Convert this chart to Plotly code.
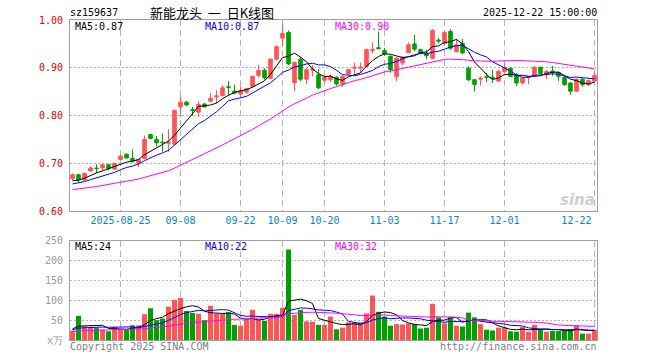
import plotly.graph_objects as go
import pandas as pd

# ---------------- data ----------------
dates = [
    "2025-08-13", "2025-08-14", "2025-08-15", "2025-08-18", "2025-08-19", "2025-08-20", "2025-08-21", "2025-08-22",
    "2025-08-25", "2025-08-26", "2025-08-27", "2025-08-28", "2025-08-29",
    "2025-09-01", "2025-09-02", "2025-09-03", "2025-09-04", "2025-09-05",
    "2025-09-08", "2025-09-09", "2025-09-10", "2025-09-11", "2025-09-12",
    "2025-09-15", "2025-09-16", "2025-09-17", "2025-09-18", "2025-09-19",
    "2025-09-22", "2025-09-23", "2025-09-24", "2025-09-25", "2025-09-26",
    "2025-09-29", "2025-09-30",
    "2025-10-09", "2025-10-10",
    "2025-10-13", "2025-10-14", "2025-10-15", "2025-10-16", "2025-10-17",
    "2025-10-20", "2025-10-21", "2025-10-22", "2025-10-23", "2025-10-24",
    "2025-10-27", "2025-10-28", "2025-10-29", "2025-10-30", "2025-10-31",
    "2025-11-03", "2025-11-04", "2025-11-05", "2025-11-06", "2025-11-07",
    "2025-11-10", "2025-11-11", "2025-11-12", "2025-11-13", "2025-11-14",
    "2025-11-17", "2025-11-18", "2025-11-19", "2025-11-20", "2025-11-21",
    "2025-11-24", "2025-11-25", "2025-11-26", "2025-11-27", "2025-11-28",
    "2025-12-01", "2025-12-02", "2025-12-03", "2025-12-04", "2025-12-05",
    "2025-12-08", "2025-12-09", "2025-12-10", "2025-12-11", "2025-12-12",
    "2025-12-15", "2025-12-16", "2025-12-17", "2025-12-18", "2025-12-19",
    "2025-12-22",
]

open_ = [0.668, 0.676, 0.665, 0.684, 0.690, 0.690, 0.697, 0.688, 0.708, 0.719,
         0.710, 0.700, 0.710, 0.760, 0.750, 0.744, 0.742, 0.740, 0.818, 0.828,
         0.812, 0.807, 0.824, 0.830, 0.839, 0.842, 0.860, 0.851, 0.845, 0.849,
         0.861, 0.884, 0.895, 0.878, 0.918, 0.962, 0.974, 0.869, 0.918, 0.876,
         0.895, 0.885, 0.874, 0.875, 0.880, 0.866, 0.887, 0.899, 0.899, 0.903,
         0.936, 0.942, 0.936, 0.924, 0.881, 0.910, 0.932, 0.950, 0.938, 0.931,
         0.920, 0.958, 0.951, 0.976, 0.934, 0.951, 0.899, 0.875, 0.876, 0.881,
         0.880, 0.872, 0.892, 0.899, 0.885, 0.868, 0.879, 0.882, 0.901, 0.885,
         0.893, 0.890, 0.880, 0.868, 0.851, 0.876, 0.865, 0.872]
high = [0.679, 0.678, 0.680, 0.694, 0.698, 0.698, 0.699, 0.701, 0.718, 0.720,
        0.729, 0.709, 0.758, 0.762, 0.757, 0.762, 0.771, 0.812, 0.840, 0.830,
        0.818, 0.830, 0.826, 0.847, 0.853, 0.863, 0.872, 0.865, 0.861, 0.858,
        0.883, 0.906, 0.899, 0.920, 0.947, 0.990, 0.978, 0.913, 0.922, 0.900,
        0.906, 0.897, 0.886, 0.886, 0.882, 0.886, 0.898, 0.911, 0.911, 0.940,
        0.953, 0.976, 0.941, 0.926, 0.922, 0.924, 0.953, 0.969, 0.940, 0.938,
        0.981, 0.962, 0.976, 0.981, 0.960, 0.960, 0.903, 0.875, 0.882, 0.889,
        0.896, 0.896, 0.910, 0.901, 0.889, 0.880, 0.883, 0.903, 0.902, 0.895,
        0.904, 0.892, 0.882, 0.870, 0.878, 0.878, 0.875, 0.892]
low = [0.664, 0.660, 0.663, 0.682, 0.680, 0.686, 0.685, 0.685, 0.706, 0.710,
       0.702, 0.692, 0.708, 0.750, 0.735, 0.724, 0.724, 0.738, 0.797, 0.820,
       0.799, 0.797, 0.817, 0.828, 0.826, 0.840, 0.842, 0.844, 0.839, 0.846,
       0.858, 0.880, 0.875, 0.876, 0.915, 0.944, 0.905, 0.851, 0.872, 0.866,
       0.882, 0.855, 0.868, 0.870, 0.862, 0.860, 0.885, 0.885, 0.889, 0.901,
       0.930, 0.939, 0.925, 0.890, 0.872, 0.905, 0.930, 0.935, 0.928, 0.918,
       0.918, 0.951, 0.948, 0.938, 0.932, 0.928, 0.872, 0.850, 0.863, 0.870,
       0.868, 0.870, 0.890, 0.880, 0.862, 0.865, 0.865, 0.880, 0.885, 0.876,
       0.883, 0.872, 0.862, 0.843, 0.849, 0.860, 0.862, 0.870]
close = [0.676, 0.665, 0.679, 0.690, 0.689, 0.697, 0.689, 0.700, 0.715, 0.711,
         0.705, 0.708, 0.750, 0.752, 0.743, 0.743, 0.744, 0.811, 0.828, 0.822,
         0.811, 0.823, 0.818, 0.836, 0.841, 0.858, 0.859, 0.847, 0.852, 0.856,
         0.882, 0.894, 0.879, 0.918, 0.944, 0.972, 0.908, 0.911, 0.876, 0.896,
         0.897, 0.858, 0.880, 0.882, 0.866, 0.882, 0.896, 0.901, 0.901, 0.938,
         0.938, 0.940, 0.929, 0.896, 0.920, 0.922, 0.948, 0.939, 0.931, 0.925,
         0.978, 0.956, 0.974, 0.941, 0.948, 0.931, 0.875, 0.865, 0.878, 0.880,
         0.878, 0.892, 0.901, 0.882, 0.868, 0.878, 0.881, 0.901, 0.888, 0.892,
         0.891, 0.882, 0.865, 0.851, 0.876, 0.865, 0.873, 0.884]
# volume, 万
volume = [24, 61, 35, 33, 30, 26, 22, 33, 28, 26,
          37, 37, 65, 80, 50, 54, 84, 101, 106, 73,
          68, 66, 50, 86, 66, 66, 70, 38, 36, 51,
          76, 51, 48, 66, 66, 81, 228, 63, 76, 47,
          46, 38, 38, 59, 27, 31, 44, 44, 44, 67,
          112, 71, 59, 36, 40, 39, 42, 40, 29, 31,
          91, 57, 42, 57, 36, 34, 69, 57, 40, 26,
          24, 31, 31, 22, 21, 33, 21, 38, 27, 21,
          23, 23, 23, 27, 37, 16, 16, 26]

# sessions before the visible window (only feed the moving averages)
prior_close = [0.628, 0.632, 0.630, 0.635, 0.633, 0.637, 0.634, 0.638, 0.640, 0.636,
               0.639, 0.642, 0.640, 0.644, 0.641, 0.645, 0.643, 0.646, 0.644, 0.648,
               0.646, 0.650, 0.648, 0.652, 0.655, 0.657, 0.660, 0.659, 0.664]
prior_volume = [18, 22, 17, 20, 19, 21, 16, 23, 18, 20, 19, 22, 17, 21, 20, 18, 22, 19, 21, 17,
                22, 26, 24, 25, 23, 27, 31, 28, 30]

date_ticks = ["2025-08-25", "2025-09-08", "2025-09-22", "2025-10-09", "2025-10-20",
              "2025-11-03", "2025-11-17", "2025-12-01", "2025-12-22"]
date_tick_text = ["2025-08-25", "09-08", "09-22", "10-09", "10-20", "11-03", "11-17", "12-01", "12-22"]

price_ticks = [0.60, 0.70, 0.80, 0.90, 1.00]
vol_ticks = [0, 50, 100, 150, 200, 250]
vol_tick_text = ["x万", "50", "100", "150", "200", "250"]

code = "sz159637"
title_text = "新能龙头&nbsp;&nbsp;一&nbsp;&nbsp;日K线图"
timestamp = "2025-12-22 15:00:00"
price_ma_labels = ["MA5:0.87", "MA10:0.87", "MA30:0.90"]
vol_ma_labels = ["MA5:24", "MA10:22", "MA30:32"]

# ---------------- derived ----------------
n_prior = len(prior_close)
cs = pd.Series(prior_close + close)
vs = pd.Series(prior_volume + volume)
ma_p = {w: cs.rolling(w).mean().iloc[n_prior:].tolist() for w in (5, 10, 30)}
ma_v = {w: vs.rolling(w).mean().iloc[n_prior:].tolist() for w in (5, 10, 30)}

RED = "#ff5555"
GREEN = "#00a000"
MA_COLORS = {5: "#000000", 10: "#0000ff", 30: "#ff00ff"}
MONO = "DejaVu Sans Mono"
GRID = "#b4b4b4"
BORDER = "#a0a0a0"

vol_colors = [RED if c >= o else GREEN for o, c in zip(open_, close)]

# the last date label sits to the left of its gridline (kept inside the frame)
tick_text_shown = date_tick_text[:-1] + [date_tick_text[-1] + "\u00a0" * 6]

fig = go.Figure()
fig.add_trace(go.Candlestick(
    x=dates, open=open_, high=high, low=low, close=close,
    increasing=dict(line=dict(color=RED, width=1), fillcolor=RED),
    decreasing=dict(line=dict(color=GREEN, width=1), fillcolor=GREEN),
    xaxis="x", yaxis="y", hoverinfo="skip", showlegend=False,
))
for w in (5, 10, 30):
    fig.add_trace(go.Scatter(x=dates, y=ma_p[w], mode="lines",
                             line=dict(color=MA_COLORS[w], width=1),
                             xaxis="x", yaxis="y", hoverinfo="skip", showlegend=False))

fig.add_trace(go.Bar(x=dates, y=volume, marker=dict(color=vol_colors, line=dict(width=0)),
                     width=0.83, xaxis="x2", yaxis="y2", hoverinfo="skip", showlegend=False))
for w in (5, 10, 30):
    fig.add_trace(go.Scatter(x=dates, y=ma_v[w], mode="lines",
                             line=dict(color=MA_COLORS[w], width=1),
                             xaxis="x2", yaxis="y2", hoverinfo="skip", showlegend=False))

# plot area: x 70..597 px, y 20..340 px
L, R, T, B = 70, 597, 20, 340
W, H = R - L, B - T


def px(x, y):
    return (x - L) / W, (B - y) / H


main_bottom = 211
vol_top = 240.7
xrange_ = [-0.42, len(dates) - 1 + 0.42]

axis_common = dict(showline=True, mirror=True, linecolor=BORDER, linewidth=1,
                   showgrid=True, gridcolor=GRID, gridwidth=1, zeroline=False, ticks="")

fig.update_layout(
    width=660, height=360,
    margin=dict(l=L, r=660 - R, t=T, b=360 - B),
    paper_bgcolor="white", plot_bgcolor="white",
    boxgap=0.15,
    bargap=0.1,
    xaxis=dict(domain=[0, 1], anchor="y", type="category", range=xrange_,
               tickmode="array", tickvals=date_ticks, ticktext=tick_text_shown,
               tickfont=dict(family=MONO, size=10, color="#0a7fd0"),
               griddash="6px,4px", rangeslider=dict(visible=False), **axis_common),
    xaxis2=dict(domain=[0, 1], anchor="y2", type="category", range=xrange_, matches="x",
                tickmode="array", tickvals=date_ticks, showticklabels=False,
                griddash="6px,4px", **axis_common),
    yaxis=dict(domain=[(B - main_bottom) / H, 1], anchor="x", range=[0.60, 1.00],
               tickmode="array", tickvals=price_ticks, ticktext=[f"{v:.2f}" for v in price_ticks],
               tickfont=dict(family=MONO, size=10, color="#e60000"),
               griddash="2px,2px", ticklabelstandoff=4, **axis_common),
    yaxis2=dict(domain=[0, (B - vol_top) / H], anchor="x2", range=[0, 250],
                tickmode="array", tickvals=vol_ticks, ticktext=vol_tick_text,
                tickfont=dict(family=MONO, size=10, color="#9a9a9a"),
                griddash="2px,2px", ticklabelstandoff=4, **axis_common),
)


def add_text(text, x, y, color="#000000", size=10, family=MONO, anchor="left", **kw):
    xp, yp = px(x, y)
    fig.add_annotation(text=text, x=xp, y=yp, xref="paper", yref="paper",
                       xanchor=anchor, yanchor="middle", showarrow=False,
                       font=dict(family=family, size=size, color=color), **kw)


add_text(code, 68, 13)
add_text(title_text, 148, 13, size=13, family="Noto Sans CJK SC")
add_text(timestamp, 599, 13, anchor="right")

for (lbl, x, col) in zip(price_ma_labels, (73, 203, 333), ("#000000", "#0000ff", "#ff00ff")):
    add_text(lbl, x, 26, color=col)
for (lbl, x, col) in zip(vol_ma_labels, (73, 203, 333), ("#000000", "#0000ff", "#ff00ff")):
    add_text(lbl, x, 246.5, color=col)

add_text("Copyright 2025 SINA.COM", 68, 346, color="#808080")
add_text("http://finance.sina.com.cn", 599, 346, color="#808080", anchor="right")
add_text("<b><i>sina</i></b>", 597, 200, color="#cfcfcf", size=15, family="DejaVu Sans", anchor="right")

fig.write_html("out.html", config={"displayModeBar": False},
               post_script="document.body.style.margin='0px';document.body.style.padding='0px';")
